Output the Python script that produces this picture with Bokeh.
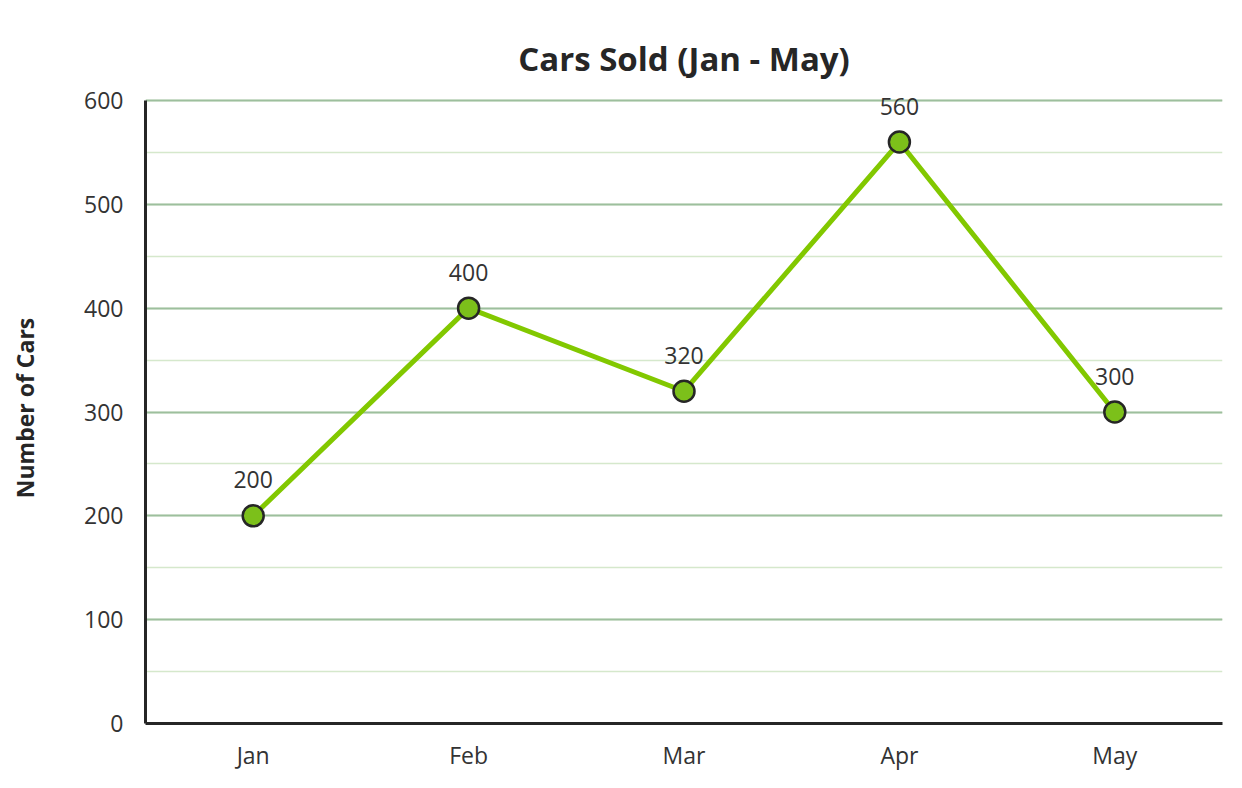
from bokeh.plotting import figure
from bokeh.models import ColumnDataSource, FactorRange, Range1d, SingleIntervalTicker, LabelSet, Title
from bokeh.core.properties import value
from bokeh.embed import file_html
from bokeh.resources import INLINE

months = ["Jan", "Feb", "Mar", "Apr", "May"]
cars_sold = [200, 400, 320, 560, 300]
label_text = [str(v) for v in cars_sold]
title_text = "Cars Sold (Jan - May)"
y_title = "Number of Cars"
y_min, y_max = 0, 600

FONT = "Open Sans"

src = ColumnDataSource(dict(x=months, y=cars_sold, lbl=label_text))

# frame extends ~8px above the 600 line so the top data label is not clipped
p = figure(width=1234, height=780, x_range=FactorRange(factors=months),
           y_range=Range1d(y_min, y_max + 8 * 600 / 623), output_backend="svg",
           toolbar_location=None, title=" ")
p.min_border_left = 145
p.min_border_right = 12
p.min_border_top = 92
p.min_border_bottom = 57
p.outline_line_color = None

# the built-in title (closest to the frame) acts as an invisible spacer
p.title.text_font_size = "1px"
p.title.text_color = None
p.title.standoff = 25

# the visible title sits above the spacer
main_title = Title(text=title_text, align="center", vertical_align="top",
                   text_font=FONT, text_font_size="33px", text_font_style="bold",
                   text_color="#262626", offset=0, standoff=20)
p.add_layout(main_title, "above")

p.yaxis.ticker = SingleIntervalTicker(interval=100, num_minor_ticks=2)
p.yaxis.bounds = (y_min, y_max)
p.yaxis.axis_label = y_title
p.yaxis.axis_label_text_font = FONT
p.yaxis.axis_label_text_font_style = "bold"
p.yaxis.axis_label_text_font_size = "23px"
p.yaxis.axis_label_text_color = "#262626"
p.yaxis.axis_label_standoff = 40

for ax in (p.xaxis, p.yaxis):
    ax.axis_line_width = 3
    ax.axis_line_color = "#262626"
    ax.major_tick_line_color = None
    ax.minor_tick_line_color = None
    ax.major_label_text_font = FONT
    ax.major_label_text_font_size = "23px"
    ax.major_label_text_color = "#333333"
p.yaxis.major_label_standoff = 16
p.xaxis.major_label_standoff = 9

p.xgrid.grid_line_color = None
p.ygrid.bounds = (y_min, y_max)
p.ygrid.grid_line_color = "#9dbf9d"
p.ygrid.grid_line_width = 2
p.ygrid.minor_grid_line_color = "#d5e8cc"
p.ygrid.minor_grid_line_width = 1.5

p.line("x", "y", source=src, line_color="#82c800", line_width=5)
p.scatter("x", "y", source=src, size=21, fill_color="#7cc01a",
          line_color="#262626", line_width=2.5)

labels = LabelSet(x="x", y="y", text="lbl", source=src, y_offset=36,
                  text_align="center", text_baseline="middle",
                  text_font=value(FONT), text_font_size=value("23px"),
                  text_color="#333333")
p.add_layout(labels)

open("out.html", "w").write(file_html(p, INLINE))
